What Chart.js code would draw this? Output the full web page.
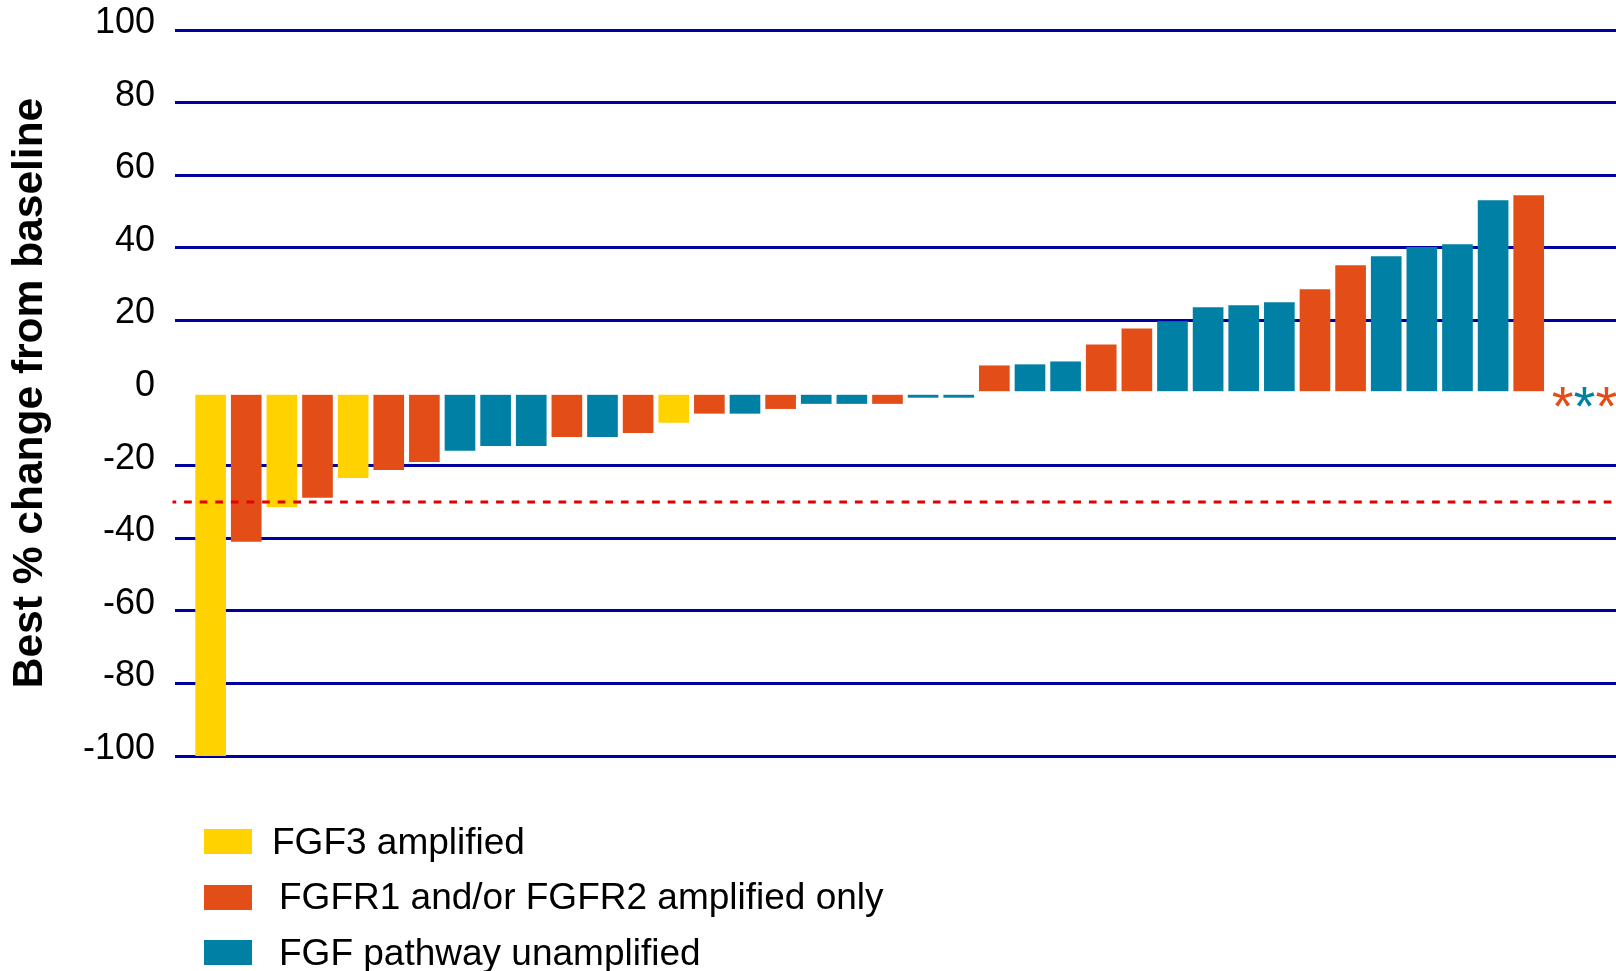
<!DOCTYPE html>
<html>
<head>
<meta charset="utf-8">
<title>Best % change from baseline</title>
<script src="https://cdn.jsdelivr.net/npm/chart.js@4.4.0/dist/chart.umd.min.js"></script>
<style>
  html, body { margin: 0; padding: 0; background: #fff; }
  #wrap { position: relative; width: 1616px; height: 971px; overflow: hidden; }
  #wrap canvas { position: absolute; left: 0; top: 0; }
  .swatch { position: absolute; left: 204px; width: 48px; height: 25px; }
  .legendText {
    position: absolute;
    font-family: "Liberation Sans", Arial, sans-serif;
    font-size: 37px;
    line-height: 37px;
    color: #000;
    white-space: nowrap;
  }
</style>
</head>
<body>
<div id="wrap">
  <canvas id="waterfall" width="1616" height="971"></canvas>
  <div id="legend"></div>
</div>
<script>
// ---------------------------
// Data (read off the waterfall)
// ---------------------------
const patients = [1, 2, 3, 4, 5, 6, 7, 8, 9, 10, 11, 12, 13, 14, 15, 16, 17, 18, 19,
    20, 21, 22, 23, 24, 25, 26, 27, 28, 29, 30, 31, 32, 33, 34, 35, 36, 37, 38];

const bestChange = [-100, -40.9, -31.3, -28.8, -23.3, -21.1, -18.9, -15.8, -14.5, -14.5,
    -12, -12, -10.9, -8.1, -5.6, -5.6, -4.3, -2.9, -2.9, -2.9,
    -1.2, -1.2, 7.5, 7.8, 8.6, 13.3, 17.7, 19.7, 23.5, 24.1,
    24.9, 28.5, 35.1, 37.6, 40.1, 40.9, 53, 54.4];

// 0 = FGF3, 1 = FGFR1/2, 2 = unamplified
const patientGroup = [0, 1, 0, 1, 0, 1, 1, 2, 2, 2, 1, 2, 1, 0, 1, 2, 1, 2, 2, 1,
    2, 2, 1, 2, 2, 1, 1, 2, 2, 2, 2, 1, 1, 2, 2, 2, 2, 1];

const groups = ["FGF3 amplified", "FGFR1 and/or FGFR2 amplified only", "FGF pathway unamplified"];
const groupColors = ["#ffd200", "#e34e18", "#0080a4"];

// patients without a post-baseline value (drawn as asterisks)
const noScanGroups = [1, 2, 1];

const yTicks = [-100, -80, -60, -40, -20, 0, 20, 40, 60, 80, 100];
const responseCutoff = -30;

const FONT = '"Liberation Sans", Arial, sans-serif';

// ---------------------------
// Build one dataset per group
// ---------------------------
let datasets = [];
for (let g = 0; g < groups.length; g++) {
    let pts = [];
    for (let i = 0; i < patients.length; i++) {
        if (patientGroup[i] == g) {
            pts.push({ x: patients[i], y: bestChange[i] });
        }
    }
    datasets.push({
        label: groups[g],
        data: pts,
        backgroundColor: groupColors[g],
        borderWidth: 0
    });
}

// ------------------------------------------------
// Zero gap, -30% dashed line and the asterisks
// ------------------------------------------------
const overlayLines = {
    id: 'overlayLines',
    afterDatasetsDraw(chart) {
        const ctx = chart.ctx;
        const area = chart.chartArea;
        const x = chart.scales.x;
        const y = chart.scales.y;
        const zeroY = y.getPixelForValue(0);
        ctx.save();

        ctx.strokeStyle = '#ffffff';
        ctx.lineWidth = 3.3;
        ctx.beginPath();
        ctx.moveTo(area.left, zeroY);
        ctx.lineTo(area.right, zeroY);
        ctx.stroke();

        const cutY = y.getPixelForValue(responseCutoff);
        ctx.strokeStyle = '#e20000';
        ctx.lineWidth = 3;
        ctx.setLineDash([7.7, 7.9]);
        ctx.lineDashOffset = 4;
        ctx.beginPath();
        ctx.moveTo(area.left - 2.5, cutY);
        ctx.lineTo(area.right, cutY);
        ctx.stroke();
        ctx.setLineDash([]);

        ctx.font = '56px ' + FONT;
        ctx.textAlign = 'center';
        ctx.textBaseline = 'alphabetic';
        const step = ctx.measureText('*').width;
        let ax = x.getPixelForValue(patients[patients.length - 1]) + 34;
        noScanGroups.forEach(function (g) {
            ctx.fillStyle = groupColors[g];
            ctx.fillText('*', ax, zeroY + 32);
            ax += step;
        });
        ctx.restore();
    }
};

let ctx = document.getElementById('waterfall').getContext('2d');
let myChart = new Chart(ctx, {
    type: 'bar',
    data: { datasets: datasets },
    options: {
        responsive: false,
        animation: false,
        layout: { padding: { top: 30, bottom: 215, left: 0, right: 0 } },
        datasets: { bar: { grouped: false, barThickness: 30 } },
        plugins: {
            legend: { display: false },
            tooltip: { enabled: false }
        },
        scales: {
            x: {
                type: 'linear',
                min: 0,
                max: 40.45,
                offset: false,
                display: false
            },
            y: {
                min: yTicks[0],
                max: yTicks[yTicks.length - 1],
                afterBuildTicks: function (scale) {
                    scale.ticks = yTicks.map(function (v) { return { value: v }; });
                },
                afterFit: function (scale) { scale.width = 175; },
                ticks: {
                    padding: 0,
                    labelOffset: -7,
                    color: '#000',
                    font: { family: FONT, size: 36 }
                },
                grid: {
                    color: function (c) { return c.tick && c.tick.value == 0 ? 'rgba(0,0,0,0)' : '#0000a0'; },
                    lineWidth: 3,
                    drawTicks: true,
                    tickLength: 20,
                    tickColor: 'rgba(0,0,0,0)'
                },
                border: { display: false },
                title: {
                    display: true,
                    text: 'Best % change from baseline',
                    color: '#000',
                    font: { family: FONT, size: 42.5, weight: 'bold' },
                    padding: { top: 5, bottom: 0 }
                }
            }
        }
    },
    plugins: [overlayLines]
});

// ---------------------------
// Legend (HTML, stacked)
// ---------------------------
const legendTop = 829;
const legendStep = 55.5;
const legendTextLeft = [272, 279, 279];
let legendDiv = document.getElementById('legend');
for (let g = 0; g < groups.length; g++) {
    let sw = document.createElement('div');
    sw.className = 'swatch';
    sw.style.top = (legendTop + g * legendStep) + 'px';
    sw.style.background = groupColors[g];
    legendDiv.appendChild(sw);

    let txt = document.createElement('div');
    txt.className = 'legendText';
    txt.style.left = legendTextLeft[g] + 'px';
    txt.style.top = (legendTop + g * legendStep - 6.5) + 'px';
    txt.textContent = groups[g];
    legendDiv.appendChild(txt);
}
</script>
</body>
</html>
